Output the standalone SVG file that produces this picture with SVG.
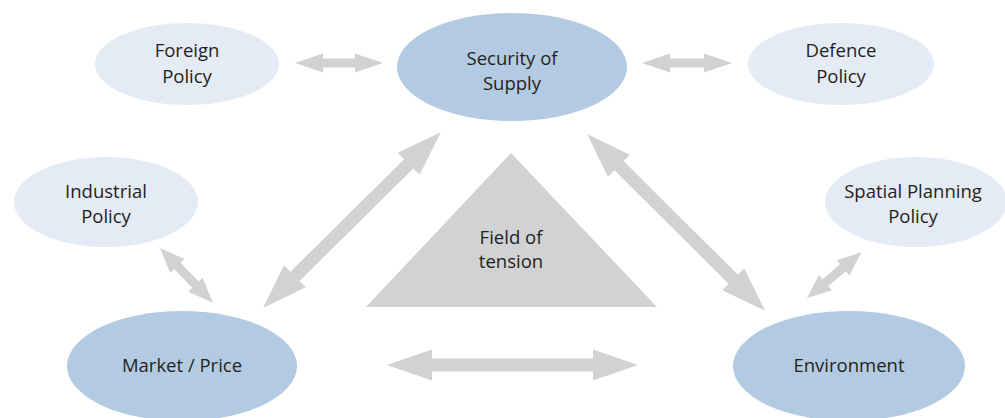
<svg xmlns="http://www.w3.org/2000/svg" width="1005" height="418" viewBox="0 0 1005 418">
<style>
.main{fill:#b3cbe2}
.side{fill:#e5ebf5}
.arr{fill:#d1d2d4}
text{font-family:"Open Sans","Noto Sans",sans-serif;font-size:18.5px;fill:#231f20;text-anchor:middle}
</style>
<rect width="1005" height="418" fill="#ffffff"/>
<g id="connectors">
<polygon class="arr" points="295,63 323,53.5 323,58.5 355,58.5 355,53.5 383,63 355,72.5 355,67.5 323,67.5 323,72.5"/>
<polygon class="arr" points="642,63 670,53.5 670,58.5 704,58.5 704,53.5 732,63 704,72.5 704,67.5 670,67.5 670,72.5"/>
<polygon class="arr" points="387,365 432,349.5 432,358.5 593,358.5 593,349.5 638,365 593,380.5 593,371.5 432,371.5 432,380.5"/>
<polygon class="arr" transform="translate(263,308) rotate(-44.7)" points="0,0 45,-15.5 45,-6.5 205,-6.5 205,-15.5 250,0 205,15.5 205,6.5 45,6.5 45,15.5"/>
<polygon class="arr" transform="translate(587,134) rotate(44.8)" points="0,0 45,-15.5 45,-6.5 206,-6.5 206,-15.5 251,0 206,15.5 206,6.5 45,6.5 45,15.5"/>
<polygon class="arr" transform="translate(160,248) rotate(46)" points="0,0 25,-10 25,-4.5 51,-4.5 51,-10 76,0 51,10 51,4.5 25,4.5 25,10"/>
<polygon class="arr" transform="translate(807,298) rotate(-40)" points="0,0 24,-10 24,-4.5 47,-4.5 47,-10 71,0 47,10 47,4.5 24,4.5 24,10"/>
</g>
<g id="field">
<polygon fill="#d1d2d4" points="511,153 657,307 366,307"/>
<text x="511" y="244">Field of</text>
<text x="511" y="268">tension</text>
</g>
<g id="security">
<ellipse class="main" cx="512" cy="67" rx="115" ry="54"/>
<text x="512" y="65">Security of</text>
<text x="512" y="90">Supply</text>
</g>
<g id="foreign">
<ellipse class="side" cx="187" cy="64" rx="92" ry="41"/>
<text x="187" y="57">Foreign</text>
<text x="187" y="83">Policy</text>
</g>
<g id="defence">
<ellipse class="side" cx="841" cy="64" rx="93" ry="41"/>
<text x="841" y="57">Defence</text>
<text x="841" y="83">Policy</text>
</g>
<g id="industrial">
<ellipse class="side" cx="106" cy="202" rx="92" ry="45"/>
<text x="106" y="198">Industrial</text>
<text x="106" y="223">Policy</text>
</g>
<g id="spatial">
<ellipse class="side" cx="916" cy="202" rx="91" ry="45"/>
<text x="913" y="198">Spatial Planning</text>
<text x="913" y="223">Policy</text>
</g>
<g id="market">
<ellipse class="main" cx="182" cy="366" rx="115" ry="55"/>
<text x="182" y="372">Market / Price</text>
</g>
<g id="environment">
<ellipse class="main" cx="849" cy="366" rx="116" ry="55"/>
<text x="849" y="372">Environment</text>
</g>
</svg>
